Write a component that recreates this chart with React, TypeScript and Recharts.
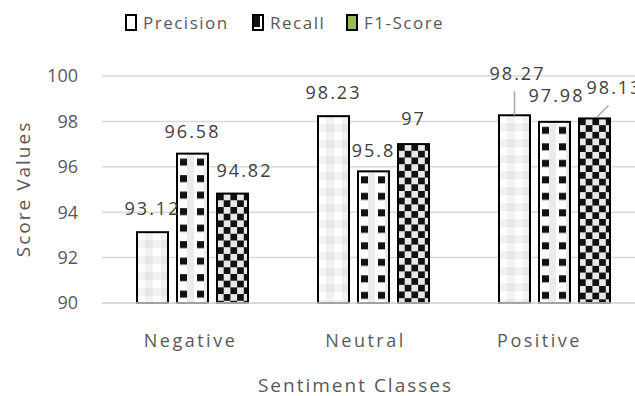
import React from 'react';
import { BarChart, Bar, XAxis, YAxis, CartesianGrid, LabelList, Label } from 'recharts';

// Sentiment classifier scores per class
const categories = ['Negative', 'Neutral', 'Positive'];
const precision = [93.12, 98.23, 98.27];
const recall = [96.58, 95.8, 97.98];
const f1Score = [94.82, 97, 98.13];
const yTicks = [90, 92, 94, 96, 98, 100];

const data = categories.map((name, i) => ({
  name,
  precision: precision[i],
  recall: recall[i],
  f1: f1Score[i],
}));

const FONT = '"Open Sans", "Noto Sans", sans-serif';
const AXIS_TEXT = '#595959';
const LABEL_TEXT = '#404040';
const GRID = '#d9d9d9';

// where each value label sits relative to its bar top: [dx, dy of text centre]
const labelOffsets: Record<string, [number, number][]> = {
  precision: [[0, -24], [0, -24], [3, -42]],
  recall: [[0, -23], [0, -21], [2, -27]],
  f1: [[12, -24], [0, -26], [20, -31]],
};

// leader lines for labels pushed away from crowded bars: [x1, y1, x2, y2] from bar top centre
const leaders: Record<string, [number, number, number, number]> = {
  'precision-2': [0, -24, 0, 0],
  'f1-2': [14, -13, 2, -1],
};

// category labels sit a little left of their bar groups
const tickShift = [-2, -8, -15];

type PatternKind = 'grid' | 'dots' | 'checker';

const PatternDefs = ({ id, kind, x, y }: { id: string; kind: PatternKind; x: number; y: number }) => {
  if (kind === 'grid') {
    return (
      <pattern id={id} x={x} y={y} width={16} height={16} patternUnits="userSpaceOnUse">
        <rect width={16} height={16} fill="#ffffff" />
        <rect x={8} width={8} height={16} fill="rgba(0,0,0,0.05)" />
        <rect y={8} width={16} height={8} fill="rgba(0,0,0,0.05)" />
      </pattern>
    );
  }
  if (kind === 'dots') {
    return (
      <pattern id={id} x={x} y={y} width={17} height={16.5} patternUnits="userSpaceOnUse">
        <rect width={17} height={16.5} fill="#ffffff" />
        <rect x={10} width={7} height={16.5} fill="#ebebeb" />
        <rect x={3} y={5} width={7} height={7} fill="#111111" />
      </pattern>
    );
  }
  return (
    <pattern id={id} x={x} y={y} width={13.4} height={13.4} patternUnits="userSpaceOnUse">
      <rect width={13.4} height={13.4} fill="#e8e8e8" />
      <rect width={6.7} height={6.7} fill="#111111" />
      <rect x={6.7} y={6.7} width={6.7} height={6.7} fill="#111111" />
    </pattern>
  );
};

const makeShape = (key: string, kind: PatternKind) => (props: any) => {
  const { x, y, width, height, index } = props;
  if (height == null || height <= 0) return null;
  const id = `pat-${key}-${index}`;
  return (
    <g>
      <defs>
        <PatternDefs id={id} kind={kind} x={x} y={y} />
      </defs>
      <rect x={x} y={y} width={width} height={height} fill={`url(#${id})`} stroke="#000" strokeWidth={2} />
    </g>
  );
};

const makeLabel = (key: string) => (props: any) => {
  const { x, y, width, value, index } = props;
  const cx = x + width / 2;
  const [dx, dy] = labelOffsets[key][index];
  const lead = leaders[`${key}-${index}`];
  return (
    <g>
      {lead && (
        <line x1={cx + lead[0]} y1={y + lead[1]} x2={cx + lead[2]} y2={y + lead[3]} stroke="#a6a6a6" strokeWidth={1.5} />
      )}
      <text
        x={cx + dx}
        y={y + dy}
        textAnchor="middle"
        dominantBaseline="central"
        fontFamily={FONT}
        fontSize={18}
        letterSpacing={2}
        fill={LABEL_TEXT}
      >
        {value}
      </text>
    </g>
  );
};

const CategoryTick = (props: any) => {
  const { x, y, payload, index } = props;
  return (
    <text
      x={x + (tickShift[index] ?? 0)}
      y={y + 37}
      textAnchor="middle"
      dominantBaseline="central"
      fontFamily={FONT}
      fontSize={18}
      letterSpacing={2.5}
      fill={AXIS_TEXT}
    >
      {payload.value}
    </text>
  );
};

const LegendBox = ({ kind }: { kind: 'plain' | 'dark' | 'green' }) => (
  <svg width={12} height={17} style={{ marginRight: 6 }}>
    <rect x={1} y={1} width={10} height={15} fill={kind === 'green' ? '#9bbb59' : '#fff'} stroke="#000" strokeWidth={2} />
    {kind === 'dark' && <rect x={2} y={2} width={6} height={11} fill="#111" />}
  </svg>
);

const legendItems: { label: string; kind: 'plain' | 'dark' | 'green'; left: number }[] = [
  { label: 'Precision', kind: 'plain', left: 125 },
  { label: 'Recall', kind: 'dark', left: 252 },
  { label: 'F1-Score', kind: 'green', left: 346 },
];

export default function App() {
  return (
    <div style={{ position: 'absolute', top: 0, left: 0, width: 635, height: 396, overflow: 'hidden', background: '#fff' }}>
      <div style={{ position: 'absolute', top: 11, left: 0, width: 635, height: 24 }}>
        {legendItems.map((item) => (
          <div
            key={item.label}
            style={{
              position: 'absolute',
              left: item.left,
              top: 0,
              display: 'flex',
              alignItems: 'center',
              fontFamily: FONT,
              fontSize: 17,
              letterSpacing: 1.5,
              color: AXIS_TEXT,
            }}
          >
            <LegendBox kind={item.kind} />
            {item.label}
          </div>
        ))}
      </div>
      <BarChart
        width={655}
        height={396}
        data={data}
        margin={{ top: 76, right: 10, bottom: 0, left: 42 }}
        barSize={31}
        barGap={9}
      >
        <CartesianGrid vertical={false} stroke={GRID} strokeWidth={1.5} />
        <XAxis
          dataKey="name"
          height={93}
          tickLine={false}
          tickSize={0}
          tickMargin={0}
          axisLine={{ stroke: GRID, strokeWidth: 1.5 }}
          tick={<CategoryTick />}
        >
          <Label
            content={(p: any) => {
              const vb = p.viewBox;
              return (
                <text
                  x={vb.x + vb.width / 2 - 18}
                  y={vb.y + 82}
                  textAnchor="middle"
                  dominantBaseline="central"
                  fontFamily={FONT}
                  fontSize={19}
                  letterSpacing={2}
                  fill={AXIS_TEXT}
                >
                  Sentiment Classes
                </text>
              );
            }}
          />
        </XAxis>
        <YAxis
          width={60}
          domain={[90, 100]}
          ticks={yTicks}
          tickLine={false}
          axisLine={false}
          tickSize={0}
          tickMargin={24}
          tick={{ fontFamily: FONT, fontSize: 18, fill: AXIS_TEXT }}
        >
          <Label
            content={() => (
              <text
                x={23}
                y={189}
                transform="rotate(-90 23 189)"
                textAnchor="middle"
                dominantBaseline="central"
                fontFamily={FONT}
                fontSize={19}
                letterSpacing={2}
                fill={AXIS_TEXT}
              >
                Score Values
              </text>
            )}
          />
        </YAxis>
        <Bar dataKey="precision" isAnimationActive={false} shape={makeShape('precision', 'grid')}>
          <LabelList dataKey="precision" content={makeLabel('precision')} />
        </Bar>
        <Bar dataKey="recall" isAnimationActive={false} shape={makeShape('recall', 'dots')}>
          <LabelList dataKey="recall" content={makeLabel('recall')} />
        </Bar>
        <Bar dataKey="f1" isAnimationActive={false} shape={makeShape('f1', 'checker')}>
          <LabelList dataKey="f1" content={makeLabel('f1')} />
        </Bar>
      </BarChart>
    </div>
  );
}
